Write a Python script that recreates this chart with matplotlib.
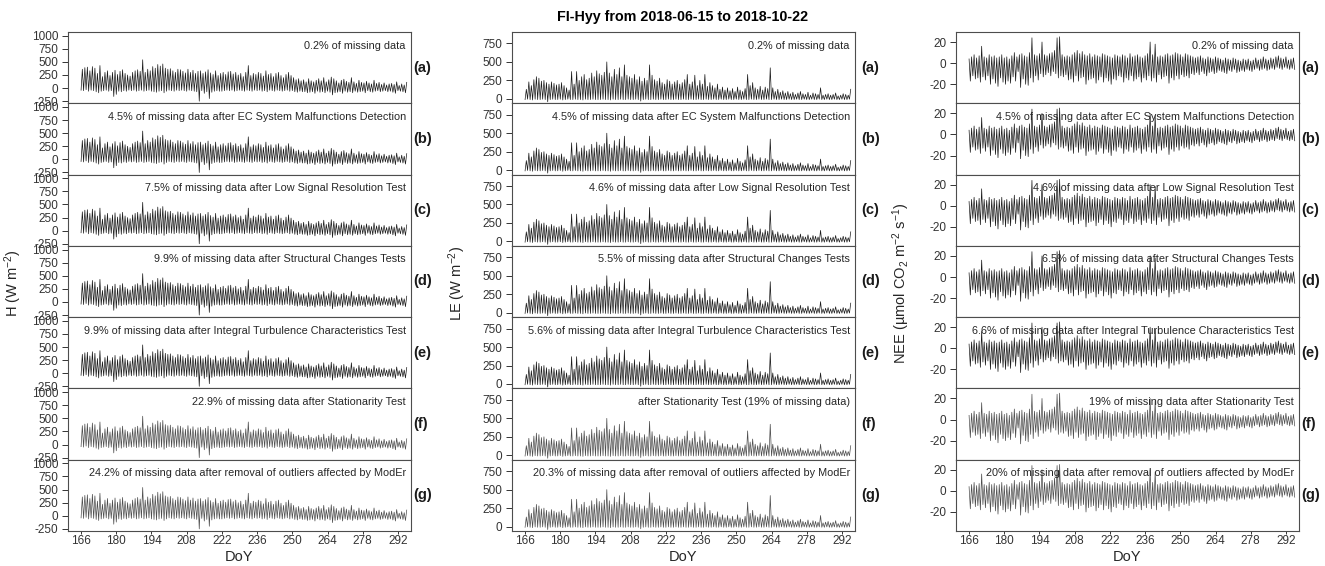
import numpy as np
import matplotlib
matplotlib.use("Agg")
from matplotlib import pyplot as plt

plt.rcParams['font.family'] = ['Liberation Sans', 'DejaVu Sans']
plt.rcParams['axes.unicode_minus'] = False
plt.rcParams['mathtext.default'] = 'regular'

# day of year, 2018-06-15 .. 2018-10-22
doy = np.arange(166, 296)

# daily peaks / lows (one value per day)
H_max = [360, 390, 400, 330, 410, 380, 280, 430, 220, 300,
         330, 240, 300, 340, 260, 320, 350, 280, 250, 230,
         300, 330, 350, 320, 540, 300, 360, 330, 410, 380,
         450, 420, 460, 380, 360, 370, 330, 300, 360, 350,
         320, 290, 360, 300, 340, 280, 320, 330, 280, 310,
         350, 290, 260, 330, 240, 280, 300, 260, 310, 320,
         270, 300, 250, 280, 220, 300, 430, 240, 280, 260,
         300, 280, 230, 330, 260, 280, 220, 280, 300, 240,
         200, 260, 300, 240, 200, 160, 180, 140, 160, 120,
         180, 140, 120, 150, 180, 140, 200, 120, 160, 210,
         180, 140, 100, 150, 170, 130, 110, 200, 120, 90,
         150, 110, 100, 130, 100, 80, 150, 90, 110, 70,
         100, 60, 80, 90, 70, 120, 50, 80, 60, 110]
H_min = [-40, -50, -30, -60, -40, -50, -70, -90, -60, -50,
         -40, -60, -50, -160, -120, -60, -70, -50, -60, -40,
         -50, -40, -60, -50, -40, -60, -50, -40, -60, -70,
         -80, -60, -50, -90, -60, -40, -50, -60, -40, -50,
         -40, -50, -60, -40, -50, -60, -70, -250, -50, -100,
         -70, -200, -80, -60, -50, -60, -60, -50, -40, -50,
         -40, -60, -50, -40, -50, -60, -40, -50, -60, -40,
         -50, -40, -60, -50, -70, -40, -50, -60, -40, -50,
         -60, -50, -40, -60, -50, -70, -80, -60, -70, -70,
         -90, -80, -70, -100, -60, -80, -70, -90, -60, -80,
         -130, -90, -80, -70, -100, -60, -80, -70, -90, -60,
         -80, -70, -60, -90, -50, -70, -80, -60, -50, -70,
         -60, -50, -70, -60, -80, -100, -50, -60, -70, -90]

LE_max = [130, 230, 180, 260, 300, 280, 240, 250, 220, 200,
          230, 210, 190, 200, 220, 180, 150, 120, 370, 200,
          370, 250, 300, 330, 260, 280, 350, 300, 380, 340,
          320, 360, 500, 350, 300, 400, 330, 420, 300, 460,
          320, 300, 280, 330, 260, 300, 240, 280, 250, 460,
          320, 260, 240, 280, 220, 200, 260, 240, 200, 230,
          250, 200, 220, 260, 330, 200, 230, 320, 180, 250,
          200, 330, 170, 220, 180, 150, 200, 130, 160, 120,
          150, 110, 140, 100, 160, 120, 100, 140, 330, 180,
          220, 150, 130, 170, 120, 160, 140, 420, 150, 100,
          130, 90, 110, 80, 100, 70, 90, 60, 80, 100,
          70, 60, 90, 50, 80, 70, 60, 150, 50, 60,
          70, 50, 60, 80, 40, 50, 70, 60, 50, 130]
LE_min = [-10, -5, -10, -15, -5, -10, -10, -5, -10, -40,
          -10, -5, -10, -10, -5, -15, -10, -5, -10, -10,
          -5, -10, -10, -15, -5, -10, -10, -5, -10, -10,
          -10, -5, -10, -10, -15, -5, -10, -10, -5, -10,
          -10, -5, -10, -10, -5, -10, -30, -10, -5, -10,
          -10, -5, -10, -10, -5, -10, -10, -5, -10, -10,
          -5, -10, -10, -5, -10, -10, -5, -10, -10, -5,
          -10, -10, -5, -10, -10, -5, -10, -10, -5, -10,
          -10, -5, -10, -10, -5, -10, -10, -5, -10, -10,
          -5, -10, -10, -5, -10, -10, -5, -10, -10, -5,
          -10, -10, -5, -10, -10, -5, -10, -10, -5, -10,
          -10, -5, -10, -10, -5, -10, -10, -5, -10, -10,
          -5, -10, -10, -5, -10, -10, -5, -10, -10, -5]

NEE_max = [4, 6, 8, 5, 7, 16, 6, 5, 8, 6,
           7, 5, 6, 8, 5, 6, 4, 7, 10, 6,
           8, 9, 7, 6, 10, 24, 8, 7, 9, 20,
           8, 7, 9, 10, 12, 24, 25, 8, 6, 7,
           6, 8, 10, 12, 9, 11, 8, 7, 9, 6,
           8, 7, 6, 9, 8, 7, 6, 5, 8, 7,
           6, 8, 7, 5, 9, 6, 7, 8, 6, 5,
           7, 9, 20, 8, 18, 6, 7, 6, 8, 9,
           7, 8, 10, 9, 8, 6, 9, 8, 7, 6,
           5, 6, 7, 5, 4, 6, 5, 4, 6, 5,
           4, 3, 5, 4, 3, 5, 4, 3, 2, 4,
           3, 4, 2, 3, 5, 3, 4, 6, 4, 3,
           5, 4, 6, 7, 5, 4, 6, 3, 4, 5]
NEE_min = [-17, -12, -15, -14, -18, -13, -16, -12, -20, -15,
           -19, -22, -14, -18, -20, -17, -19, -13, -17, -8,
           -23, -15, -20, -21, -14, -18, -12, -16, -10, -13,
           -11, -9, -12, -8, -10, -14, -12, -13, -11, -16,
           -15, -18, -12, -17, -14, -13, -20, -16, -15, -14,
           -19, -16, -13, -18, -14, -17, -20, -15, -16, -12,
           -13, -18, -14, -16, -12, -17, -15, -13, -18, -14,
           -16, -12, -17, -14, -18, -11, -15, -13, -12, -19,
           -14, -16, -12, -15, -11, -13, -12, -14, -10, -11,
           -9, -11, -8, -10, -12, -9, -8, -10, -9, -7,
           -8, -9, -10, -7, -8, -6, -9, -8, -7, -8,
           -6, -7, -8, -6, -5, -7, -6, -5, -7, -6,
           -5, -6, -4, -5, -6, -4, -5, -6, -5, -6]

panel_tags = ["(a)", "(b)", "(c)", "(d)", "(e)", "(f)", "(g)"]

H_notes = ["0.2% of missing data",
           "4.5% of missing data after EC System Malfunctions Detection",
           "7.5% of missing data after Low Signal Resolution Test",
           "9.9% of missing data after Structural Changes Tests",
           "9.9% of missing data after Integral Turbulence Characteristics Test",
           "22.9% of missing data after Stationarity Test",
           "24.2% of missing data after removal of outliers affected by ModEr"]
LE_notes = ["0.2% of missing data",
            "4.5% of missing data after EC System Malfunctions Detection",
            "4.6% of missing data after Low Signal Resolution Test",
            "5.5% of missing data after Structural Changes Tests",
            "5.6% of missing data after Integral Turbulence Characteristics Test",
            "after Stationarity Test (19% of missing data)",
            "20.3% of missing data after removal of outliers affected by ModEr"]
NEE_notes = ["0.2% of missing data",
             "4.5% of missing data after EC System Malfunctions Detection",
             "4.6% of missing data after Low Signal Resolution Test",
             "6.5% of missing data after Structural Changes Tests",
             "6.6% of missing data after Integral Turbulence Characteristics Test",
             "19% of missing data after Stationarity Test",
             "20% of missing data after removal of outliers affected by ModEr"]

x_ticks = [166, 180, 194, 208, 222, 236, 250, 264, 278, 292]


def zigzag(low, high, low_first=True):
    # night value at midnight, daytime value at noon
    a, b = (low, high) if low_first else (high, low)
    t = np.column_stack([doy, doy + 0.5]).ravel()
    v = np.column_stack([a, b]).ravel()
    return t, v


columns = [
    dict(x0=68, data=zigzag(H_min, H_max), notes=H_notes,
         ylim=(-290, 1070), yticks=[-250, 0, 250, 500, 750, 1000],
         ylabel="H (W m$^{-2}$)", tagx=1.008),
    dict(x0=512, data=zigzag(LE_min, LE_max), notes=LE_notes,
         ylim=(-60, 905), yticks=[0, 250, 500, 750],
         ylabel="LE (W m$^{-2}$)", tagx=1.018),
    dict(x0=956, data=zigzag(NEE_min, NEE_max, low_first=False), notes=NEE_notes,
         ylim=(-38, 29.5), yticks=[-20, 0, 20],
         ylabel="NEE (µmol CO$_2$ m$^{-2}$ s$^{-1}$)", tagx=1.008),
]

W, Hpx = 1325, 566
fig = plt.figure(figsize=(W / 100, Hpx / 100), dpi=100)

top, bottom = 32, 531
ph = (bottom - top) / 7
aw = 343

for c, col in enumerate(columns):
    t, v = col["data"]
    for r in range(7):
        ax = fig.add_axes([col["x0"] / W, 1 - (top + (r + 1) * ph) / Hpx, aw / W, ph / Hpx])
        lc = "0.1" if r < 5 else "0.3"
        ax.plot(t, v, color=lc, lw=0.5)
        ax.set_xlim(160.8, 297.2)
        ax.set_ylim(*col["ylim"])
        ax.set_yticks(col["yticks"])
        ax.set_xticks(x_ticks)
        ax.tick_params(axis="y", labelsize=8.5, length=4, width=0.7, pad=3, colors="0.2")
        ax.tick_params(axis="x", labelsize=8.5, length=2, width=0.7, pad=1, colors="0.2")
        if r < 6:
            ax.tick_params(axis="x", bottom=False, labelbottom=False)
        for s in ax.spines.values():
            s.set_color("0.3")
            s.set_linewidth(0.8)
        ax.text(0.985, 0.81, col["notes"][r], transform=ax.transAxes,
                ha="right", va="center", fontsize=7.8, color="0.15")
        ax.text(col["tagx"], 0.5, panel_tags[r], transform=ax.transAxes,
                ha="left", va="center", fontsize=10.5, fontweight="bold", color="0.1")
        if r == 6:
            ax.set_xlabel("DoY", fontsize=10.5, labelpad=2, color="0.15")
    fig.text((col["x0"] - 55) / W, 0.5, col["ylabel"], rotation=90,
             ha="center", va="center", fontsize=10.5, color="0.15")

fig.text(683 / W, 1 - 17 / Hpx, "FI-Hyy from 2018-06-15 to 2018-10-22",
         ha="center", va="center", fontsize=10.3, fontweight="bold")

fig.savefig("out.png", dpi=100)
